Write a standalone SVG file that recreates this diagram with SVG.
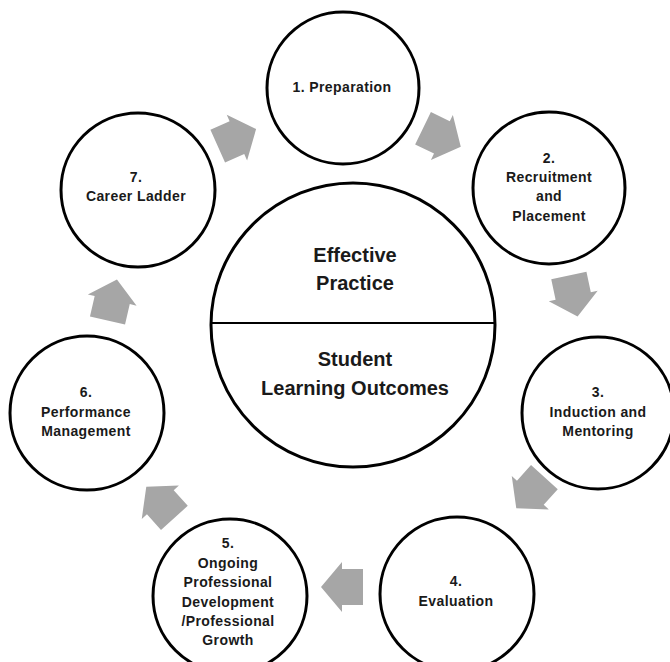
<svg xmlns="http://www.w3.org/2000/svg" width="670" height="662" viewBox="0 0 670 662">
<style>
.c{fill:#fff;stroke:#000;stroke-width:3}
.t{font-family:"Liberation Sans",Arial,sans-serif;font-weight:bold;font-size:14px;letter-spacing:0.4px;fill:#1a1a1a;text-anchor:middle}
.b{font-family:"Liberation Sans",Arial,sans-serif;font-weight:bold;font-size:20px;fill:#1a1a1a;text-anchor:middle}
.a{fill:#a6a6a6}
</style>
<defs>
<path id="arr" d="M-20,-18 L1,-18 L1,-25 L22,0 L1,25 L1,18 L-20,18 Z"/>
</defs>
<rect width="670" height="662" fill="#fff"/>
<g id="connectors" class="a">
<use href="#arr" transform="translate(236,138) rotate(-24)"/>
<use href="#arr" transform="translate(441,137) rotate(26)"/>
<use href="#arr" transform="translate(573,295) rotate(78)"/>
<use href="#arr" transform="translate(531,492) rotate(132)"/>
<use href="#arr" transform="translate(343,587) rotate(180)"/>
<use href="#arr" transform="translate(161,503) rotate(228)"/>
<use href="#arr" transform="translate(112,301) rotate(-77)"/>
</g>
<g id="center">
<circle class="c" cx="353" cy="325" r="142" stroke-width="2.5"/>
<line x1="211" y1="323" x2="495" y2="323" stroke="#000" stroke-width="2"/>
<text class="b" x="355" y="262">Effective</text>
<text class="b" x="355" y="290">Practice</text>
<text class="b" x="355" y="366">Student</text>
<text class="b" x="355" y="395">Learning Outcomes</text>
</g>
<g id="n1">
<circle class="c" cx="343" cy="88" r="76"/>
<text class="t" x="342" y="92">1. Preparation</text>
</g>
<g id="n2">
<circle class="c" cx="549" cy="188" r="76"/>
<text class="t" x="549" y="163">2.</text>
<text class="t" x="549" y="182">Recruitment</text>
<text class="t" x="549" y="201">and</text>
<text class="t" x="549" y="221">Placement</text>
</g>
<g id="n3">
<circle class="c" cx="598" cy="413" r="76"/>
<text class="t" x="598" y="397">3.</text>
<text class="t" x="598" y="417">Induction and</text>
<text class="t" x="598" y="436">Mentoring</text>
</g>
<g id="n4">
<circle class="c" cx="457" cy="594" r="77"/>
<text class="t" x="456" y="586">4.</text>
<text class="t" x="456" y="606">Evaluation</text>
</g>
<g id="n5">
<circle class="c" cx="230" cy="596" r="77"/>
<text class="t" x="228" y="548">5.</text>
<text class="t" x="228" y="568">Ongoing</text>
<text class="t" x="228" y="587">Professional</text>
<text class="t" x="228" y="607">Development</text>
<text class="t" x="228" y="626">/Professional</text>
<text class="t" x="228" y="645">Growth</text>
</g>
<g id="n6">
<circle class="c" cx="87" cy="413" r="77"/>
<text class="t" x="86" y="397">6.</text>
<text class="t" x="86" y="417">Performance</text>
<text class="t" x="86" y="436">Management</text>
</g>
<g id="n7">
<circle class="c" cx="138" cy="190" r="77"/>
<text class="t" x="136" y="182">7.</text>
<text class="t" x="136" y="201">Career Ladder</text>
</g>
</svg>
